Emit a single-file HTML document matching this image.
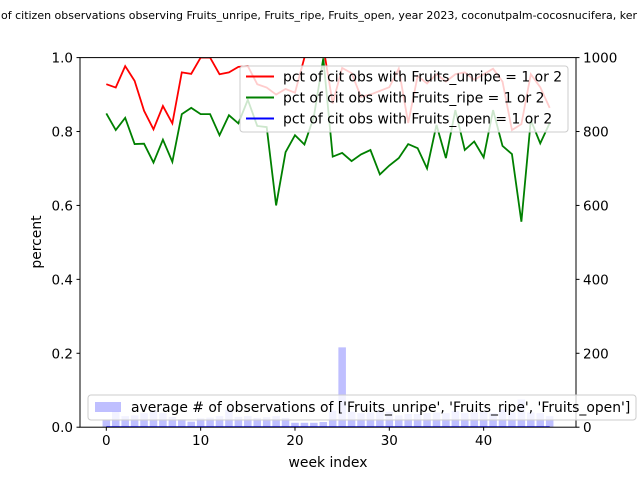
<!DOCTYPE html>
<html><head><meta charset="utf-8"><style>
body{margin:0;background:#fff}
svg{display:block;font-family:"DejaVu Sans","Liberation Sans",sans-serif}
</style></head><body>
<svg id="chart" width="640" height="480" viewBox="0 0 640 480">
<text x="1" y="19" font-size="10.5" textLength="636" lengthAdjust="spacingAndGlyphs">of citizen observations observing Fruits_unripe, Fruits_ripe, Fruits_open, year 2023, coconutpalm-cocosnucifera, ker</text>
<g id="bars"></g>
<g id="lines"></g>
<rect x="80" y="57.6" width="496" height="369.6" fill="none" stroke="#000" stroke-width="1"/>
<g id="axes" font-size="13.5"></g>
<text x="328" y="467" font-size="13.9" text-anchor="middle">week index</text>
<text transform="translate(41,242) rotate(-90)" font-size="13.9" text-anchor="middle">percent</text>
<g>
<rect x="240" y="66" width="328" height="66" rx="3" fill="#fff" fill-opacity="0.8" stroke="#ccc" stroke-width="1"/>
<g><line x1="246" y1="76.5" x2="274" y2="76.5" stroke="red" stroke-width="2"/><text x="283" y="81.5" font-size="13.9">pct of cit obs with Fruits_unripe = 1 or 2</text></g>
<g><line x1="246" y1="97.5" x2="274" y2="97.5" stroke="green" stroke-width="2"/><text x="283" y="102.5" font-size="13.9">pct of cit obs with Fruits_ripe = 1 or 2</text></g>
<g><line x1="246" y1="118.5" x2="274" y2="118.5" stroke="blue" stroke-width="2"/><text x="283" y="123.5" font-size="13.9">pct of cit obs with Fruits_open = 1 or 2</text></g>
</g>
<g>
<rect x="88" y="395" width="548" height="25" rx="3" fill="#fff" fill-opacity="0.8" stroke="#ccc" stroke-width="1"/>
<rect x="95" y="402" width="26" height="10" fill="#0000ff" fill-opacity="0.25"/>
<text x="131" y="412" font-size="13.9">average # of observations of ['Fruits_unripe', 'Fruits_ripe', 'Fruits_open']</text>
</g>
</svg>
<script>
const weeks = Array.from({length:48},(_, i)=>i);
const unripe = [0.928,0.919,0.977,0.937,0.856,0.806,0.869,0.822,0.960,0.956,1.0,1.0,0.955,0.96,0.975,0.977,0.928,0.919,0.90,0.915,0.905,1.0,1.05,1.03,0.876,0.972,0.958,0.894,0.90,0.91,0.92,0.97,0.823,0.95,0.93,0.955,0.935,0.955,0.96,0.94,0.955,0.97,0.935,0.804,0.82,0.955,0.92,0.864];
const ripe = [0.849,0.804,0.837,0.766,0.767,0.716,0.778,0.718,0.847,0.864,0.847,0.847,0.79,0.844,0.822,0.886,0.815,0.812,0.6,0.744,0.79,0.765,0.84,0.998,0.732,0.742,0.72,0.738,0.75,0.684,0.708,0.728,0.766,0.755,0.70,0.818,0.728,0.858,0.75,0.773,0.73,0.858,0.761,0.739,0.556,0.831,0.768,0.823];
const open = new Array(48).fill(0);
const counts = [20,42,30,32,38,45,38,28,22,15,24,26,30,48,28,30,25,27,30,25,12,12,12,14,45,216,42,38,40,45,42,32,36,36,38,40,38,44,38,40,42,38,48,40,75,40,38,30];
const xTicks = [0,10,20,30,40];
const yTicks = [0,0.2,0.4,0.6,0.8,1.0];
const y2Ticks = [0,200,400,600,800,1000];

const L=80,R=576,T=57.6,B=427.2,XMIN=-2.79,XMAX=49.79;
const xs=v=>L+(v-XMIN)/(XMAX-XMIN)*(R-L);
const ys=v=>B-v*(B-T);
const y2s=v=>B-v/1000*(B-T);
const NS="http://www.w3.org/2000/svg";
function mk(tag,attrs,parent){const e=document.createElementNS(NS,tag);for(const k in attrs)e.setAttribute(k,attrs[k]);parent.appendChild(e);return e;}
const svg=document.getElementById('chart');
const defs=mk('defs',{},svg);
const cp=mk('clipPath',{id:'clip'},defs);
mk('rect',{x:L,y:T,width:R-L,height:B-T},cp);

const bars=document.getElementById('bars');
counts.forEach((c,i)=>{
  const r=mk('rect',{x:xs(weeks[i]-0.4),y:y2s(c),width:xs(0.4)-xs(-0.4),height:B-y2s(c),fill:'#0000ff','fill-opacity':0.25},bars);
  
  
});
const lines=document.getElementById('lines');
lines.setAttribute('clip-path','url(#clip)');
[[unripe,'red','line-unripe'],[ripe,'green','line-ripe'],[open,'blue','line-open']].forEach(([d,c,n])=>{
  const p=mk('polyline',{points:d.map((v,i)=>xs(weeks[i])+','+ys(v)).join(' '),fill:'none',stroke:c,'stroke-width':1.8},lines);
  
  
});
const ax=document.getElementById('axes');
xTicks.forEach(t=>{
  mk('line',{x1:xs(t),x2:xs(t),y1:B,y2:B+3.5,stroke:'#000'},ax);
  const tx=mk('text',{x:xs(t),y:B+18,'text-anchor':'middle'},ax);tx.textContent=t;
  
  
});
yTicks.forEach(t=>{
  mk('line',{x1:L-3.5,x2:L,y1:ys(t),y2:ys(t),stroke:'#000'},ax);
  const tx=mk('text',{x:L-7,y:ys(t)+5,'text-anchor':'end'},ax);tx.textContent=t.toFixed(1);
  
  
});
y2Ticks.forEach(t=>{
  mk('line',{x1:R,x2:R+3.5,y1:y2s(t),y2:y2s(t),stroke:'#000'},ax);
  const tx=mk('text',{x:R+7,y:y2s(t)+5,'text-anchor':'start'},ax);tx.textContent=t;
  
  
});
</script>
</body></html>
